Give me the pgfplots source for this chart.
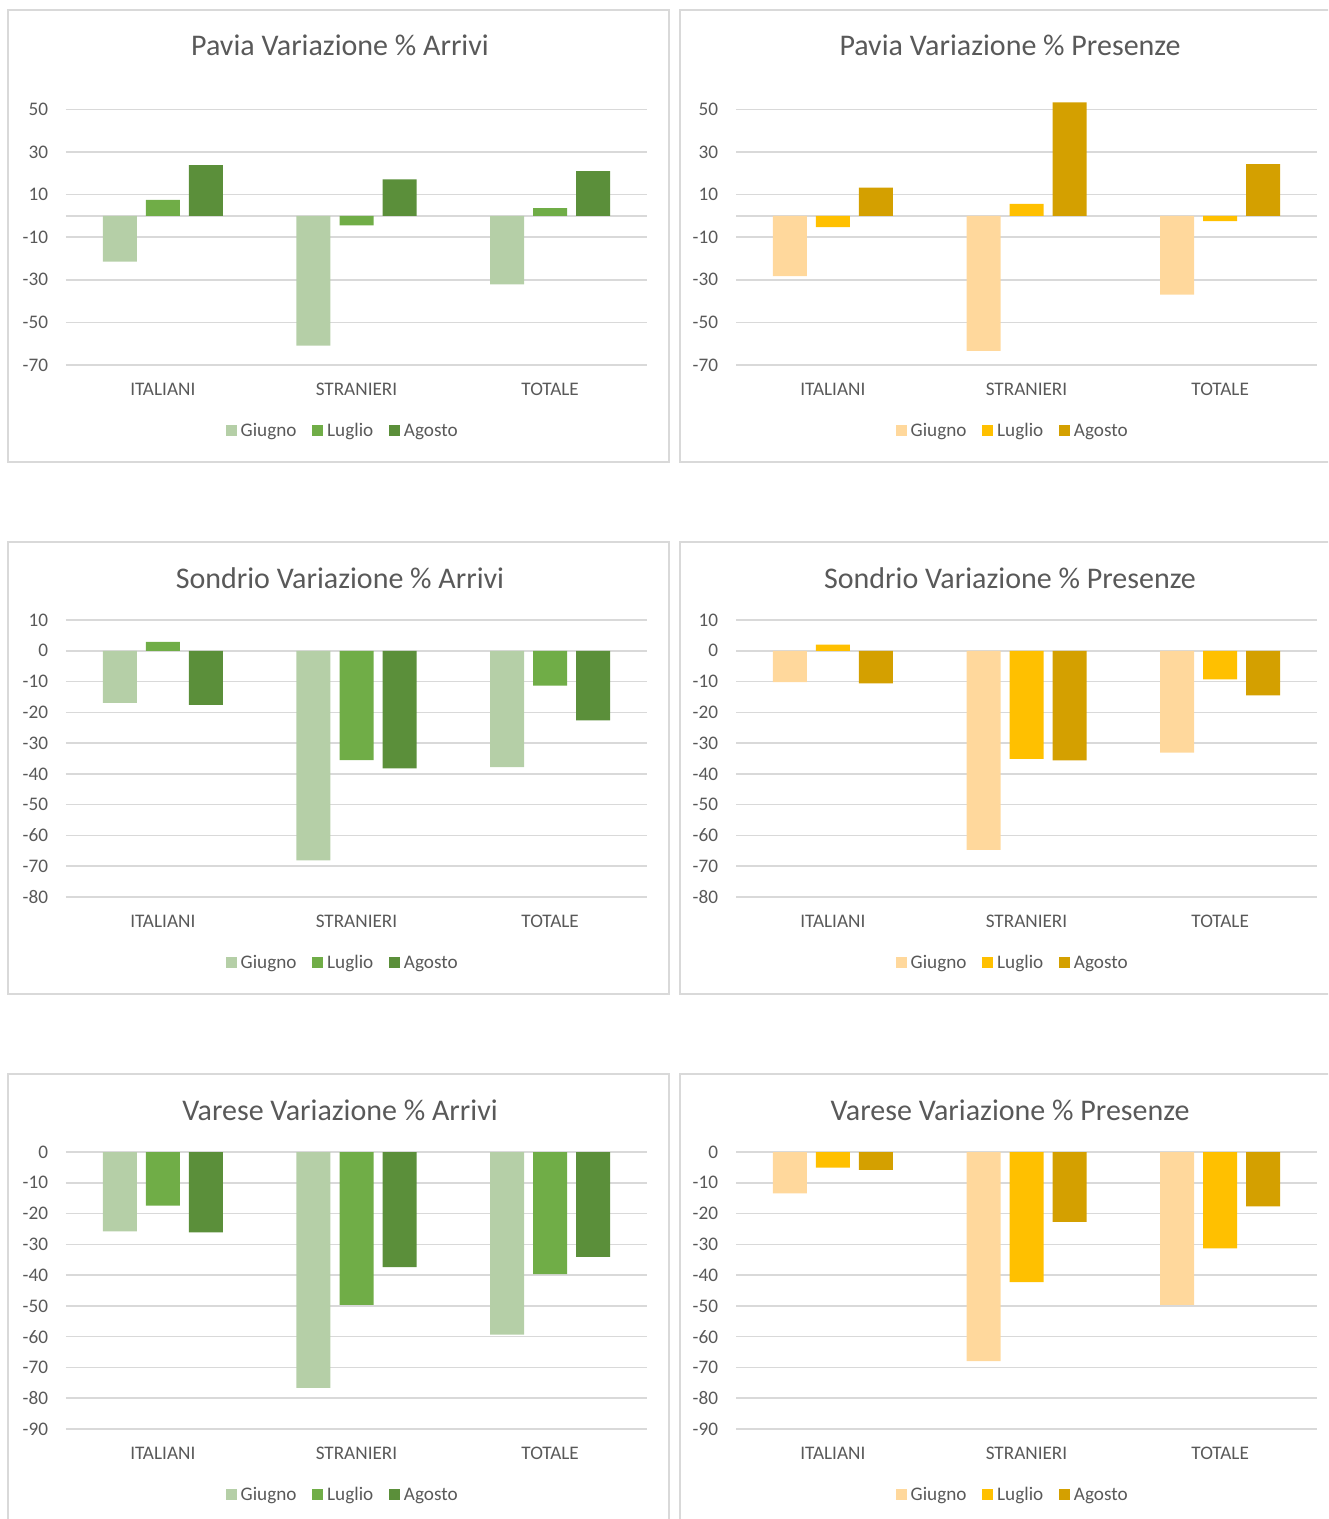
\documentclass[border=0pt]{standalone}
\usepackage{pgfplots}
\pgfplotsset{compat=1.18}
\usepackage{fontspec}
\setmainfont{Carlito}
\definecolor{gA}{HTML}{B5CFA7}
\definecolor{gB}{HTML}{70AD47}
\definecolor{gC}{HTML}{5B8F3A}
\definecolor{oA}{HTML}{FFD89C}
\definecolor{oB}{HTML}{FFC000}
\definecolor{oC}{HTML}{D4A000}
\definecolor{gridc}{HTML}{D9D9D9}
\definecolor{txt}{HTML}{595959}
\pgfplotsset{
 panel/.style={
  scale only axis, width=290.5pt, height=138.5pt, anchor=south west,
  xmin=-0.5, xmax=2.5, xtick={0,1,2}, xticklabels={ITALIANI,STRANIERI,TOTALE},
  axis line style={draw=none}, major tick length=0pt,
  ymajorgrids, grid style={gridc, line width=0.75pt},
  ybar=4.5pt, bar width=17pt,
  tick label style={font=\fontsize{9.6}{11}\selectfont, text=txt},
  /pgf/number format/assume math mode=true,
  yticklabel style={anchor=east, inner sep=0pt, xshift=-8.8pt},
  xticklabel style={anchor=base, inner sep=0pt, yshift=-15.3pt},
  title style={at={(0.4716,1)}, anchor=base, yshift=10pt, font=\fontsize{15}{17}\selectfont, text=txt, inner sep=0pt},
  legend columns=3,
  legend style={at={(0.478,-0.242)}, anchor=center, draw=none, fill=none, font=\fontsize{9.6}{11}\selectfont, text=txt,
    nodes={text height=7pt, text depth=2.2pt},
    /tikz/every even column/.append style={column sep=5.8pt}},
  legend image code/.code={\fill[##1] (0pt,-2.1pt) rectangle (5.5pt,3.4pt);},
 },
 pavia/.style={ymin=-70, ymax=60, ytick={-70,-50,-30,-10,10,30,50},
  extra y ticks={0}, extra y tick labels={}, extra y tick style={grid=major}},
 sondrio/.style={ymin=-80, ymax=10, ytick={-80,-70,...,10}},
 varese/.style={ymin=-90, ymax=0, ytick={-90,-80,...,0}},
}
\begin{document}
\begin{tikzpicture}
\useasboundingbox (0,0) rectangle (664pt,-759.5pt);
\clip (0,0) rectangle (664pt,-759.5pt);
\draw[gridc, line width=0.75pt] (4pt,-5pt) rectangle (334.5pt,-231pt);
\draw[gridc, line width=0.75pt] (340pt,-5pt) rectangle (670.5pt,-231pt);
\draw[gridc, line width=0.75pt] (4pt,-271pt) rectangle (334.5pt,-497pt);
\draw[gridc, line width=0.75pt] (340pt,-271pt) rectangle (670.5pt,-497pt);
\draw[gridc, line width=0.75pt] (4pt,-537pt) rectangle (334.5pt,-763pt);
\draw[gridc, line width=0.75pt] (340pt,-537pt) rectangle (670.5pt,-763pt);

% Pavia Arrivi
\begin{axis}[panel, pavia, at={(33pt,-182.5pt)}, title={Pavia Variazione \% Arrivi}]
\addplot[fill=gA, draw=none] coordinates {(0,-21.5) (1,-60.9) (2,-32.2)};
\addplot[fill=gB, draw=none] coordinates {(0,7.5) (1,-4.5) (2,3.6)};
\addplot[fill=gC, draw=none] coordinates {(0,23.8) (1,17.1) (2,21.0)};
\legend{Giugno,Luglio,Agosto}
\end{axis}
% Pavia Presenze
\begin{axis}[panel, pavia, at={(368pt,-182.5pt)}, title={Pavia Variazione \% Presenze}]
\addplot[fill=oA, draw=none] coordinates {(0,-28.3) (1,-63.4) (2,-37.0)};
\addplot[fill=oB, draw=none] coordinates {(0,-5.3) (1,5.6) (2,-2.5)};
\addplot[fill=oC, draw=none] coordinates {(0,13.3) (1,53.2) (2,24.3)};
\legend{Giugno,Luglio,Agosto}
\end{axis}
% Sondrio Arrivi
\begin{axis}[panel, sondrio, at={(33pt,-448.5pt)}, title={Sondrio Variazione \% Arrivi}]
\addplot[fill=gA, draw=none] coordinates {(0,-16.9) (1,-68.1) (2,-37.8)};
\addplot[fill=gB, draw=none] coordinates {(0,2.9) (1,-35.5) (2,-11.3)};
\addplot[fill=gC, draw=none] coordinates {(0,-17.6) (1,-38.2) (2,-22.6)};
\legend{Giugno,Luglio,Agosto}
\end{axis}
% Sondrio Presenze
\begin{axis}[panel, sondrio, at={(368pt,-448.5pt)}, title={Sondrio Variazione \% Presenze}]
\addplot[fill=oA, draw=none] coordinates {(0,-10.2) (1,-64.7) (2,-33.1)};
\addplot[fill=oB, draw=none] coordinates {(0,2.0) (1,-35.1) (2,-9.3)};
\addplot[fill=oC, draw=none] coordinates {(0,-10.6) (1,-35.6) (2,-14.5)};
\legend{Giugno,Luglio,Agosto}
\end{axis}
% Varese Arrivi
\begin{axis}[panel, varese, at={(33pt,-714.5pt)}, title={Varese Variazione \% Arrivi}]
\addplot[fill=gA, draw=none] coordinates {(0,-25.8) (1,-76.6) (2,-59.3)};
\addplot[fill=gB, draw=none] coordinates {(0,-17.4) (1,-49.7) (2,-39.7)};
\addplot[fill=gC, draw=none] coordinates {(0,-26.1) (1,-37.4) (2,-34.1)};
\legend{Giugno,Luglio,Agosto}
\end{axis}
% Varese Presenze
\begin{axis}[panel, varese, at={(368pt,-714.5pt)}, title={Varese Variazione \% Presenze}]
\addplot[fill=oA, draw=none] coordinates {(0,-13.4) (1,-67.9) (2,-49.7)};
\addplot[fill=oB, draw=none] coordinates {(0,-5.1) (1,-42.3) (2,-31.3)};
\addplot[fill=oC, draw=none] coordinates {(0,-5.8) (1,-22.7) (2,-17.7)};
\legend{Giugno,Luglio,Agosto}
\end{axis}
\end{tikzpicture}
\end{document}
